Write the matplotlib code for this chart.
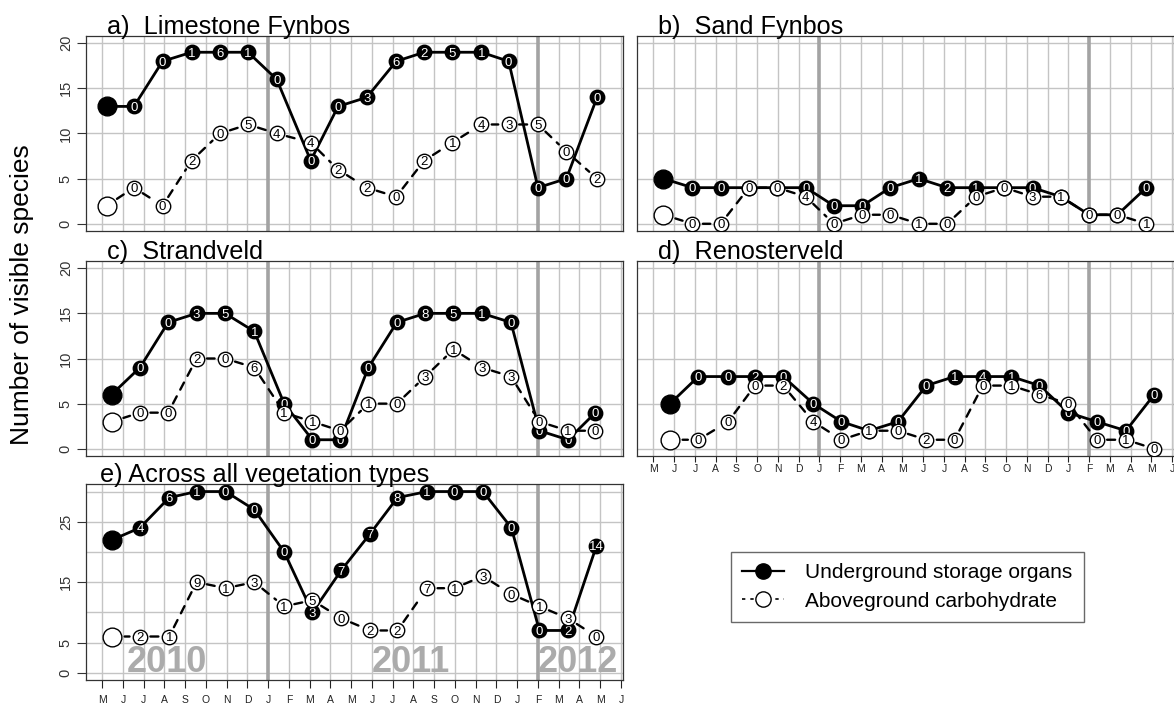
import numpy as np
import matplotlib
matplotlib.use("Agg")
import matplotlib.pyplot as plt
from matplotlib.lines import Line2D

plt.rcParams['font.family'] = ['Liberation Sans', 'DejaVu Sans']

# ---------------------------------------------------------------- data
# x = sampling time in months after 1 May 2010 (one tick per month)
month_labels = list("MJJASONDJFMAMJJASONDJFMAMJ")
year_line_ticks = [8, 21]
years = ["2010", "2011", "2012"]
year_label_x = [1.2, 13.0, 21.0]

x_a = [0.21, 1.53, 2.91, 4.31, 5.68, 7.03, 8.41, 10.05, 11.37, 12.75, 14.17, 15.52, 16.88, 18.27, 19.59, 21.0, 22.37, 23.85]
uso_a = [13, 13, 18, 19, 19, 19, 16, 7, 13, 14, 18, 19, 19, 19, 18, 4, 5, 14]
uso_a_lab = ['', '0', '0', '1', '6', '1', '0', '0', '0', '3', '6', '2', '5', '1', '0', '0', '0', '0']
agc_a = [2, 4, 2, 7, 10, 11, 10, 9, 6, 4, 3, 7, 9, 11, 11, 11, 8, 5]
agc_a_lab = ['', '0', '0', '2', '0', '5', '4', '4', '2', '2', '0', '2', '1', '4', '3', '5', '0', '2']

x_b = [0.48, 1.88, 3.24, 4.6, 5.95, 7.34, 8.69, 10.07, 11.41, 12.79, 14.15, 15.55, 16.91, 18.27, 19.63, 21.0, 22.36, 23.75]
uso_b = [5, 4, 4, 4, 4, 4, 2, 2, 4, 5, 4, 4, 4, 4, 3, 1, 1, 4]
uso_b_lab = ['', '0', '0', '0', '0', '0', '0', '0', '0', '1', '2', '1', '0', '0', '0', '0', '0', '0']
agc_b = [1, 0, 0, 4, 4, 3, 0, 1, 1, 0, 0, 3, 4, 3, 3, 1, 1, 0]
agc_b_lab = ['', '0', '0', '0', '0', '4', '0', '0', '0', '1', '0', '0', '0', '3', '1', '0', '0', '1']

x_c = [0.45, 1.82, 3.18, 4.55, 5.92, 7.33, 8.77, 10.13, 11.47, 12.83, 14.2, 15.57, 16.93, 18.3, 19.7, 21.07, 22.45, 23.77]
uso_c = [6, 9, 14, 15, 15, 13, 5, 1, 1, 9, 14, 15, 15, 15, 14, 2, 1, 4]
uso_c_lab = ['', '0', '0', '3', '5', '1', '0', '0', '0', '0', '0', '8', '5', '1', '0', '0', '0', '0']
agc_c = [3, 4, 4, 10, 10, 9, 4, 3, 2, 5, 5, 8, 11, 9, 8, 3, 2, 2]
agc_c_lab = ['', '0', '0', '2', '0', '6', '1', '1', '0', '1', '0', '3', '1', '3', '3', '0', '1', '0']

x_d = [0.8, 2.16, 3.6, 4.89, 6.25, 7.7, 9.06, 10.39, 11.78, 13.15, 14.51, 15.87, 17.24, 18.6, 20.0, 21.36, 22.77, 24.13]
uso_d = [5, 8, 8, 8, 8, 5, 3, 2, 3, 7, 8, 8, 8, 7, 4, 3, 2, 6]
uso_d_lab = ['', '0', '0', '2', '0', '0', '0', '0', '0', '0', '1', '4', '1', '0', '0', '0', '0', '0']
agc_d = [1, 1, 3, 7, 7, 3, 1, 2, 2, 1, 1, 7, 7, 6, 5, 1, 1, 0]
agc_d_lab = ['', '0', '0', '0', '2', '4', '0', '1', '0', '2', '0', '0', '1', '6', '0', '0', '1', '0']

x_e = [0.48, 1.82, 3.23, 4.55, 5.95, 7.33, 8.77, 10.13, 11.53, 12.91, 14.23, 15.66, 16.98, 18.35, 19.72, 21.07, 22.45, 23.82]
uso_e = [22, 24, 29, 30, 30, 27, 20, 10, 17, 23, 29, 30, 30, 30, 24, 7, 7, 21]
uso_e_lab = ['', '4', '6', '1', '0', '0', '0', '3', '7', '7', '8', '1', '0', '0', '0', '0', '2', '14']
agc_e = [6, 6, 6, 15, 14, 15, 11, 12, 9, 7, 7, 14, 14, 16, 13, 11, 9, 6]
agc_e_lab = ['', '2', '1', '9', '1', '3', '1', '5', '0', '2', '2', '7', '1', '3', '0', '1', '3', '0']

# ---------------------------------------------------------------- figure
W, H = 1174, 709
fig = plt.figure(figsize=(W / 100, H / 100), dpi=100)


def px_axes(left, top, right, bottom):
    return fig.add_axes([left / W, 1 - bottom / H, (right - left) / W, (bottom - top) / H])


GRID = "#c4c4c4"
YEARC = "#a3a3a3"
SMALL, BIG = 10.4, 13.5


def panel(ax, x, uso, uso_lab, agc, agc_lab, ymax, title, yticks, xlabels, xtick_len=5.5, xtick_pad=5):
    ax.set_xlim(-0.78, 25.1)
    ax.set_ylim(-0.04 * ymax, ymax * 1.04)
    for k in range(len(month_labels)):
        if k in year_line_ticks:
            ax.axvline(k, color=YEARC, lw=2.6, zorder=0.6)
        else:
            ax.axvline(k, color=GRID, lw=1.0, zorder=0.5)
    for g in np.arange(0, ymax + 1, 5):
        ax.axhline(g, color=GRID, lw=1.0, zorder=0.5)

    # underground storage organs: solid line, filled points
    ax.plot(x, uso, "-", color="black", lw=2.0, zorder=2)
    ax.plot(x[:1], uso[:1], "o", ms=BIG, color="black", zorder=2.1)
    ax.plot(x[1:], uso[1:], "o", ms=SMALL, color="black", zorder=2.1)
    for xi, yi, s in zip(x, uso, uso_lab):
        ax.text(xi, yi, s, color="white", fontsize=9.5, ha="center", va="center_baseline", zorder=2.2)

    # aboveground carbohydrate: broken dashed line, open points
    for i in range(len(x) - 1):
        ax.annotate("", xy=(x[i + 1], agc[i + 1]), xytext=(x[i], agc[i]), zorder=3,
                    arrowprops=dict(arrowstyle="-", color="black", lw=1.7,
                                    ls=(0, (3.4, 3.2)),
                                    shrinkA=9 if i == 0 else 7.5, shrinkB=7.5))
    ax.plot(x[:1], agc[:1], "o", ms=BIG, mfc="white", mec="black", mew=1.0, zorder=3.1)
    ax.plot(x[1:], agc[1:], "o", ms=SMALL, mfc="white", mec="black", mew=1.0, zorder=3.1)
    for xi, yi, s in zip(x, agc, agc_lab):
        ax.text(xi, yi, s, color="black", fontsize=9.5, ha="center", va="center_baseline", zorder=3.2)

    for sp in ax.spines.values():
        sp.set_color("#333333")
        sp.set_linewidth(0.9)
    if yticks is None:
        ax.set_yticks([])
    else:
        ax.set_yticks(yticks)
        ax.set_yticklabels([str(t) for t in yticks], rotation=90, va="center")
        ax.tick_params(axis="y", length=6.5, pad=3, labelsize=10.5, colors="#333333")
    if xlabels:
        ax.set_xticks(range(len(month_labels)))
        ax.set_xticklabels(month_labels)
        ax.tick_params(axis="x", length=xtick_len, pad=xtick_pad, labelsize=7.5, colors="#222222")
    else:
        ax.set_xticks([])
    ax.text(0.0385 if not title.startswith("e") else 0.026, 1.012, title,
            transform=ax.transAxes, fontsize=18.2, ha="left", va="baseline")


ax_a = px_axes(86, 36, 623, 231)
ax_b = px_axes(637.3, 36, 1174.3, 231)
ax_c = px_axes(86, 261, 623, 456)
ax_d = px_axes(637.3, 261, 1174.3, 456)
ax_e = px_axes(86, 484.3, 623, 680)

panel(ax_a, x_a, uso_a, uso_a_lab, agc_a, agc_a_lab, 20, "a)  Limestone Fynbos", [0, 5, 10, 15, 20], False)
panel(ax_b, x_b, uso_b, uso_b_lab, agc_b, agc_b_lab, 20, "b)  Sand Fynbos", None, False)
panel(ax_c, x_c, uso_c, uso_c_lab, agc_c, agc_c_lab, 20, "c)  Strandveld", [0, 5, 10, 15, 20], False)
panel(ax_d, x_d, uso_d, uso_d_lab, agc_d, agc_d_lab, 20, "d)  Renosterveld", None, True,
      xtick_len=4, xtick_pad=2)
panel(ax_e, x_e, uso_e, uso_e_lab, agc_e, agc_e_lab, 30, "e) Across all vegetation types", [0, 5, 15, 25], True)

for yx, yl in zip(year_label_x, years):
    ax_e.text(yx, 0.15, yl, fontsize=26, weight="bold", color="#ababab",
              ha="left", va="baseline", zorder=1)

fig.text(22 / W, 1 - 295 / H, "Number of visible species", rotation=90,
         fontsize=19, ha="center", va="center")

handles = [
    Line2D([], [], color="black", lw=1.6, marker="o", ms=11, mfc="black", mec="black"),
    Line2D([], [], color="black", lw=1.2, ls=(0, (2, 3)), marker="o", ms=11, mfc="white", mec="black"),
]
leg = fig.legend(handles, ["Underground storage organs", "Aboveground carbohydrate"],
                 loc="lower left", bbox_to_anchor=(731 / W, 1 - 622 / H),
                 fontsize=15, frameon=True, fancybox=False, handlelength=2.0,
                 handletextpad=1.0, labelspacing=0.45, borderpad=0.55, borderaxespad=0)
leg.get_frame().set_edgecolor("#444444")
leg.get_frame().set_linewidth(1.0)

fig.savefig("out.png", dpi=100)
